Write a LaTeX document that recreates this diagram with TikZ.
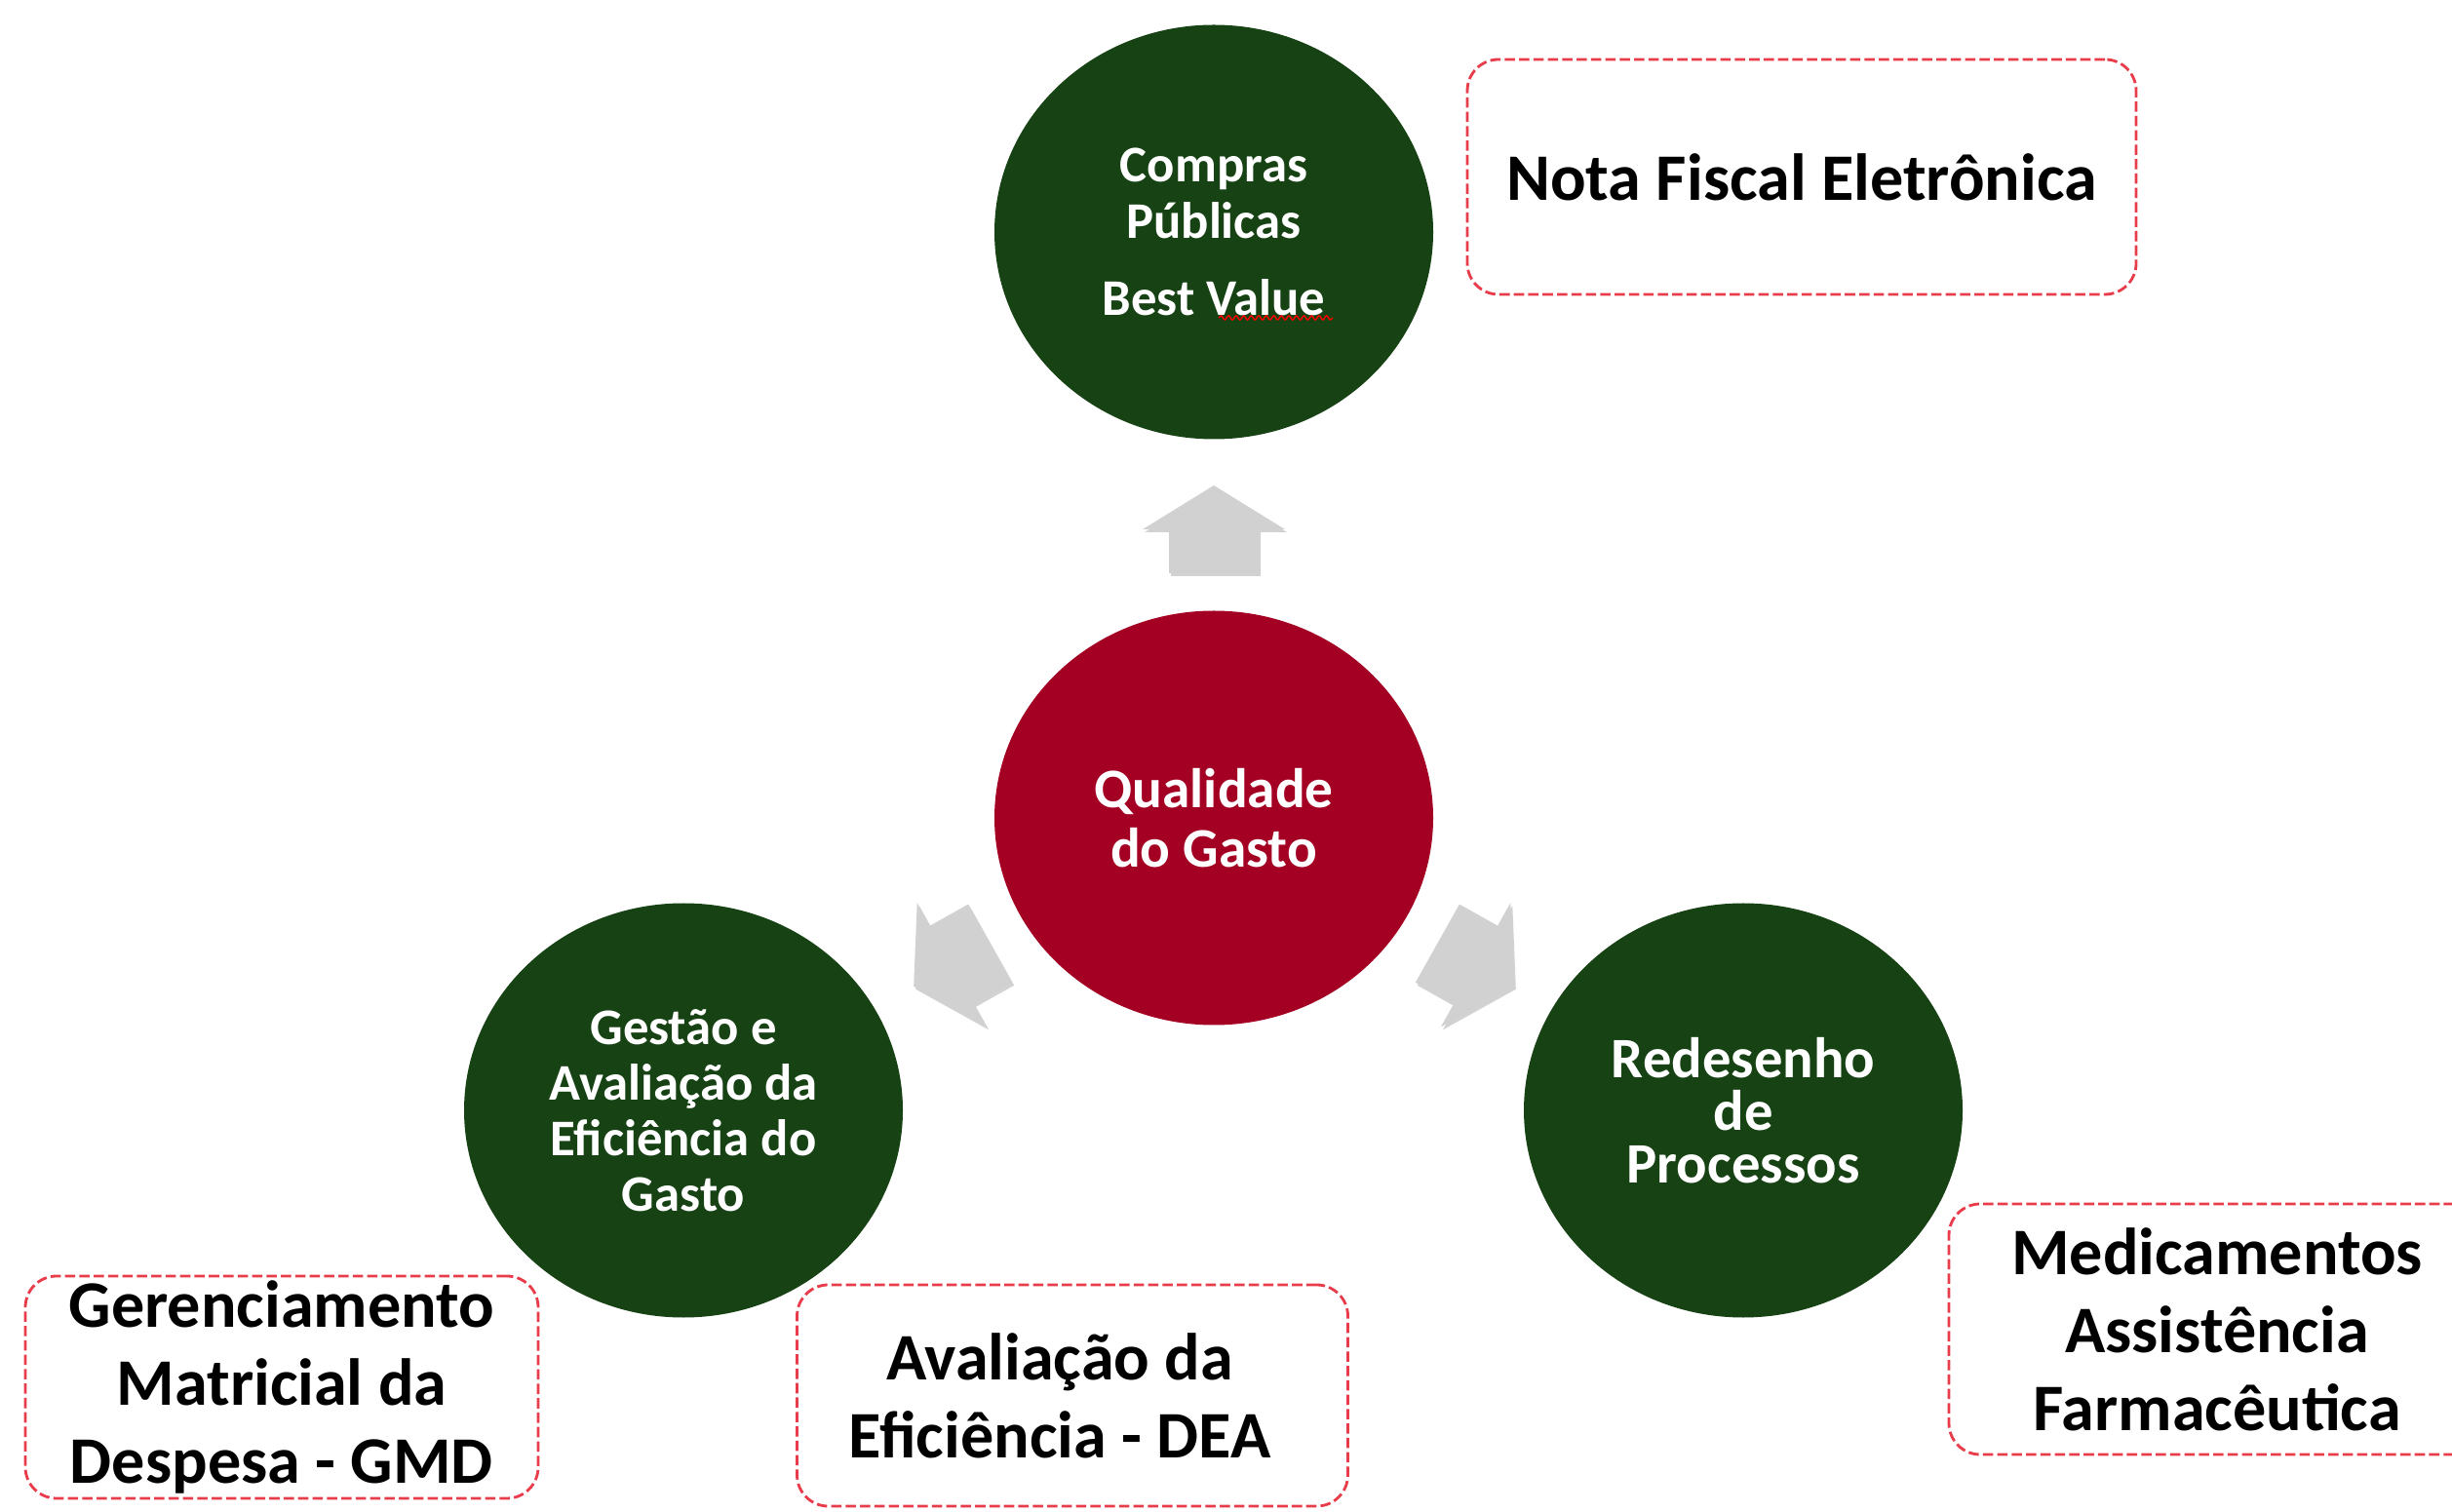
\documentclass[tikz,border=0pt]{standalone}
\usepackage{fontspec}
\setmainfont{Carlito}
\usetikzlibrary{calc,shapes.geometric,shadows,decorations.pathmorphing}
\definecolor{darkgreen}{RGB}{22,66,20}
\definecolor{darkred}{RGB}{163,0,35}
\definecolor{boxred}{RGB}{232,60,75}

\begin{document}
\begin{tikzpicture}[
  bubble/.style={ellipse,minimum width=4.5cm,minimum height=4.25cm,inner sep=0pt,align=center,text=white,font=\bfseries\fontsize{15}{16.2}\selectfont},
  topic/.style={draw=boxred,dash pattern=on 3pt off 1.2pt,line width=0.8pt,rounded corners=0.32cm,align=center,font=\bfseries\fontsize{19.4}{22.8}\selectfont,inner sep=0pt},
  blockarrow/.style={fill=gray!36,draw=none,drop shadow={shadow xshift=0.02cm,shadow yshift=-0.03cm,opacity=0.35}}
]
\clip (0,0) rectangle (25.15,15.5);
\fill[white] (0,0) rectangle (25.15,15.5);
\node[bubble,fill=darkgreen,font=\bfseries\fontsize{15}{16.4}\selectfont] (compras) at (12.45,13.12) {Compras\\Públicas\\[0.22cm]Best Value};
\node[bubble,fill=darkred,font=\bfseries\fontsize{16.3}{17.3}\selectfont] (gasto) at (12.45,7.11) {Qualidade\\do Gasto};
\node[bubble,fill=darkgreen] (gestao) at (7.01,4.11) {Gestão e\\Avaliação da\\Eficiência do\\Gasto};
\node[bubble,fill=darkgreen,font=\bfseries\fontsize{16.7}{15.4}\selectfont] (redesenho) at (17.88,4.11) {Redesenho\\de\\Processos};
\draw[red,decorate,decoration={snake,amplitude=0.6pt,segment length=2.2pt}] ($(compras.center)+(0.05,-0.88)$) -- ($(compras.center)+(1.22,-0.88)$);
\draw[blockarrow,shift={($(gasto.center)+(90:2.96)$)}] (0,0.45) -- (0.73,0) -- (0.46,0) -- (0.46,-0.45) -- (-0.46,-0.45) -- (-0.46,0) -- (-0.73,0) -- cycle;
\foreach \ang in {209.3,330.7}
  \draw[blockarrow,shift={($(gasto.center)+(\ang:3.08)$)},rotate=\ang-90] (0,0.45) -- (0.73,0) -- (0.46,0) -- (0.46,-0.45) -- (-0.46,-0.45) -- (-0.46,0) -- (-0.73,0) -- cycle;
\node[topic,minimum width=6.86cm,minimum height=2.41cm] (nota) at (18.48,13.685) {Nota Fiscal Eletrônica};
\node[topic,minimum width=5.26cm,minimum height=2.28cm] (gmd) at (2.89,1.27) {\rule{0pt}{0.1cm}Gerenciamento\\Matricial da\\Despesa - GMD};
\node[topic,minimum width=5.65cm,minimum height=2.27cm] (dea) at (11.0,1.185) {Avaliação da\hspace*{0.26cm}\\Eficiência - DEA\hspace*{0.26cm}};
\node[topic,minimum width=5.5cm,minimum height=2.57cm] (medic) at (22.74,1.865) {Medicamentos\\Assistência\\Farmacêutica};
\end{tikzpicture}
\end{document}
